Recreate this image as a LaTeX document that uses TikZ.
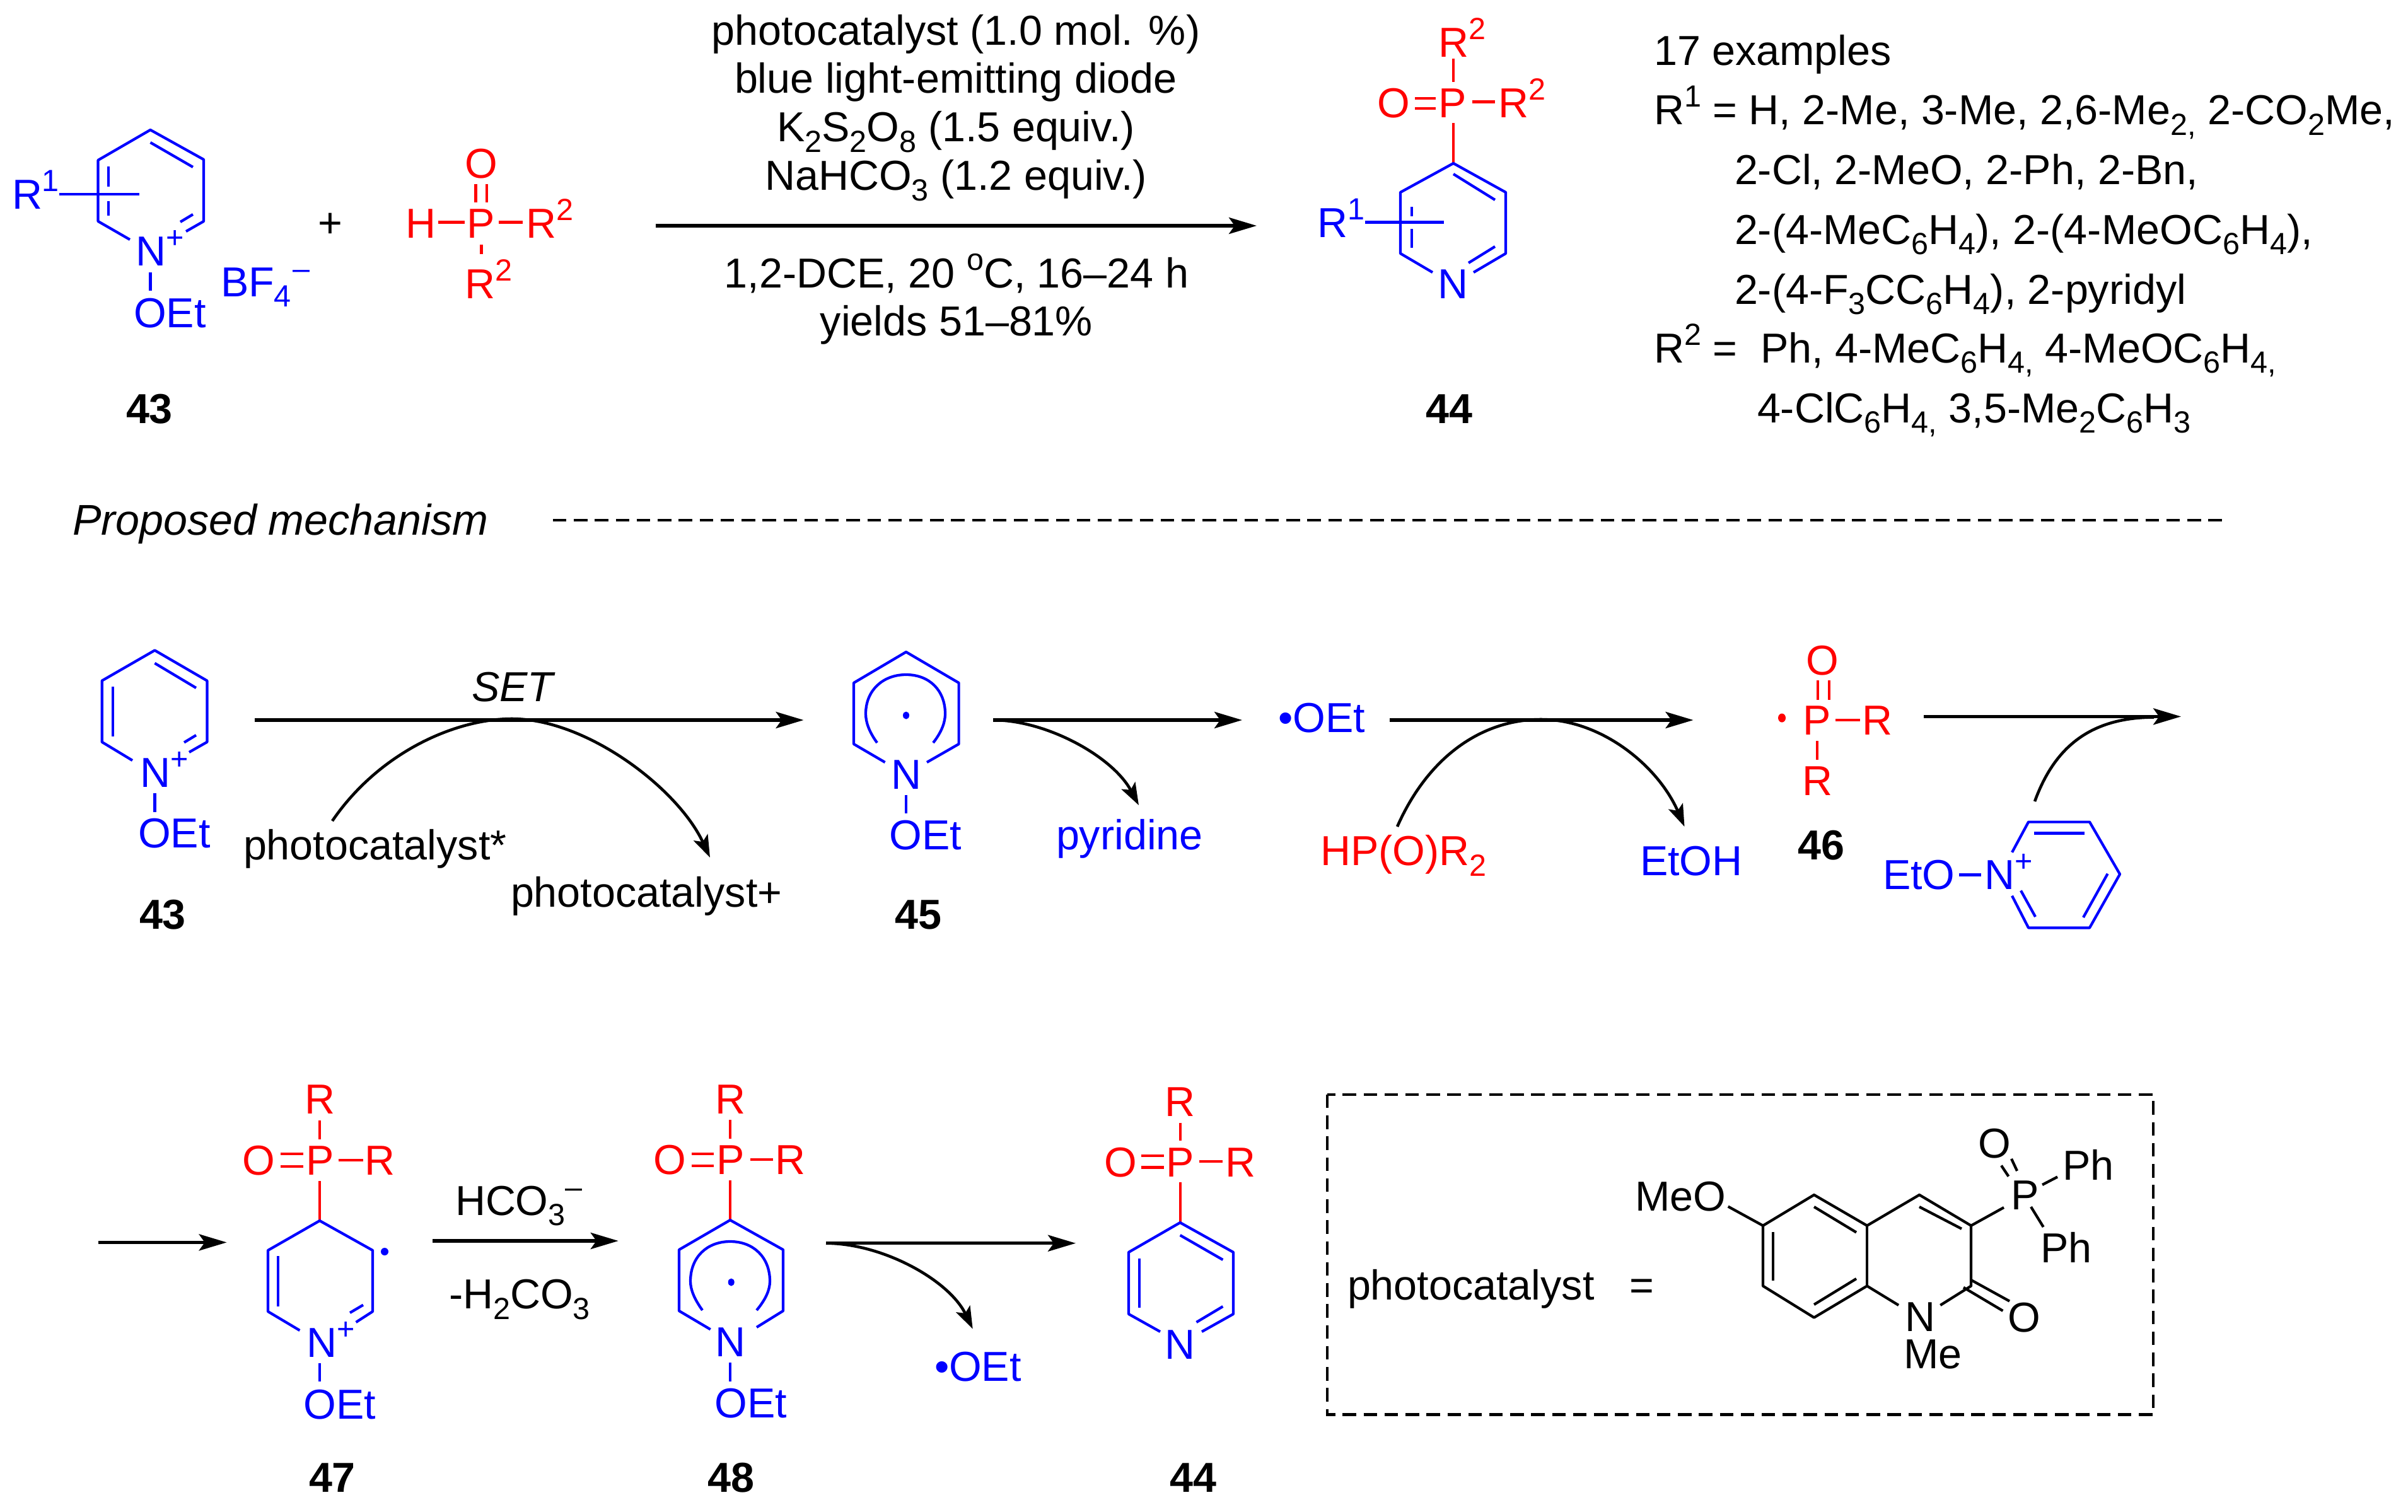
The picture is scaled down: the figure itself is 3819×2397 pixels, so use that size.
\documentclass[tikz,border=0pt]{standalone}
\usepackage{fontspec}
\setmainfont{Liberation Sans}
\usetikzlibrary{arrows.meta}
\newcommand\chemf{\fontsize{18.9pt}{22pt}\selectfont}
\newcommand\subs[1]{\raisebox{-0.25em}{\fontsize{13.8pt}{13.8pt}\selectfont #1}}
\newcommand\sups[1]{\raisebox{0.42em}{\fontsize{13.8pt}{13.8pt}\selectfont #1}}
\tikzset{
  lab/.style={anchor=base,inner sep=0pt,outer sep=0pt,font=\chemf},
  lw/.style={anchor=base west,inner sep=0pt,outer sep=0pt,font=\chemf},
  cmpd/.style={anchor=base,inner sep=0pt,outer sep=0pt,font=\chemf\bfseries},
  bond/.style={line width=1.2pt,line join=round},
  bigarrow/.style={line width=1.45pt,-{Stealth[length=12.5pt,width=7.4pt,inset=2.6pt]}},
  curvearrow/.style={line width=1.3pt,-{Stealth[length=10pt,width=7pt,inset=2.2pt]}},
  boxdash/.style={line width=1.35pt,dash pattern=on 6.1pt off 3.35pt},
}
\begin{document}
\begin{tikzpicture}[x=0.01cm,y=-0.01cm]
\fill[white] (0,0) rectangle (3819,2397);
\useasboundingbox (0,0) rectangle (3819,2397);

% ---------- top row: 43 ----------
\begin{scope}[blue]
\draw[bond] (206,380) -- (155.6,351) -- (155.6,254) -- (238.5,206) -- (323,253) -- (323,351) -- (295,367);
\draw[bond] (238.5,226) -- (306,265);
\draw[bond] (172,264) -- (172,296) (172,319) -- (172,342);
\draw[bond] (286,352) -- (306,340);
\draw[bond] (94,308) -- (221,308);
\draw[bond] (238.5,432) -- (238.5,461);
\node[lw] (tR1) at (19,331.5) {R\sups{1}};
\node[lw] (tN) at (215,421.5) {N\sups{+}};
\node[lw] (tOEt) at (212,519) {OEt};
\node[lw] (tBF) at (350,470) {BF\subs{4}\sups{\hspace{0.05em}--}};
\end{scope}
\node[lab] (plus) at (524,376) {+};
\node[cmpd] (c43a) at (237,671) {43};
% H-P(O)R2
\begin{scope}[red]
\draw[bond] (695,352.6) -- (737,352.6) (791,352.6) -- (829,352.6);
\draw[bond] (754.5,291.5) -- (754.5,321.4) (771.7,291.5) -- (771.7,321.4);
\draw[bond] (763.4,388) -- (763.4,402.7);
\node[lw] (hH) at (643,377.4) {H};
\node[lw] (hP) at (740,377.4) {P};
\node[lab] (hO) at (763.5,282) {O};
\node[lw] (hR) at (834,377.4) {R\sups{2}};
\node[lw] (hRb) at (737,473) {R\sups{2}};
\end{scope}
% conditions
\node[lab] (cond1) at (1516,72) {photocatalyst (1.0 mol. \%)};
\node[lab] (cond2) at (1516,148) {blue light-emitting diode};
\node[lab] (cond3) at (1516,225) {K\subs{2}S\subs{2}O\subs{8} (1.5 equiv.)};
\node[lab] (cond4) at (1516,301.6) {NaHCO\subs{3} (1.2 equiv.)};
\node[lab] (cond5) at (1517,456) {1,2-DCE, 20 \sups{o}C, 16–24 h};
\node[lab] (cond6) at (1517,532.6) {yields 51–81\%};
\coordinate (a1s) at (1040,358);
\coordinate (a1e) at (1993,358);
\draw[bigarrow] (a1s) -- (a1e);
% 44 top
\begin{scope}[red]
\draw[bond] (2305,93) -- (2305,130) (2305,195) -- (2305,259);
\draw[bond] (2244,156) -- (2277,156) (2244,172) -- (2277,172);
\draw[bond] (2335,161.6) -- (2371,161.6);
\node[lab] (pR) at (2305,90.4) {\phantom{\sups{2}}R\sups{2}};
\node[lw] (pO) at (2184,186) {O};
\node[lw] (pP) at (2281,186) {P};
\node[lw] (pR2) at (2376,186) {R\sups{2}};
\end{scope}
\begin{scope}[blue]
\draw[bond] (2272,432) -- (2221,402) -- (2221,305) -- (2305,259) -- (2388,305) -- (2388,402) -- (2337,432);
\draw[bond] (2305,276) -- (2371,317);
\draw[bond] (2329,417) -- (2371,391);
\draw[bond] (2239,328) -- (2239,343) (2239,363) -- (2239,392.5);
\draw[bond] (2165,352.6) -- (2290,352.6);
\node[lab] (pN) at (2304.5,473) {N};
\node[lw] (pR1) at (2089,376.5) {R\sups{1}};
\end{scope}
\node[cmpd] (c44a) at (2298,671) {44};
% examples text
\node[lw] (ex1) at (2623,103.3) {17 examples};
\node[lw] (ex2) at (2623,197.4) {R\sups{1} = H, 2-Me, 3-Me, 2,6-Me\subs{2,} 2-CO\subs{2}Me,};
\node[lw] (ex3) at (2751,292.5) {2-Cl, 2-MeO, 2-Ph, 2-Bn,};
\node[lw] (ex4) at (2751,387) {2-(4-MeC\subs{6}H\subs{4}), 2-(4-MeOC\subs{6}H\subs{4}),};
\node[lw] (ex5) at (2751,482) {2-(4-F\subs{3}CC\subs{6}H\subs{4}), 2-pyridyl};
\node[lw] (ex6) at (2623,575) {R\sups{2} = \ Ph, 4-MeC\subs{6}H\subs{4,} 4-MeOC\subs{6}H\subs{4,}};
\node[lw] (ex7) at (2787,670) {4-ClC\subs{6}H\subs{4,} 3,5-Me\subs{2}C\subs{6}H\subs{3}};
% proposed
\node[lw,font=\fontsize{19.4pt}{22pt}\selectfont\itshape] (prop) at (115,848) {Proposed mechanism};
\coordinate (ds) at (877,825);
\coordinate (de) at (3528,825);
\draw[boxdash] (ds) -- (de);

% ---------- row 2: 43 ----------
\begin{scope}[blue]
\draw[bond] (210,1206) -- (161.7,1176.8) -- (161.7,1079.6) -- (245.4,1031.4) -- (328.4,1079.6) -- (328.4,1176.8) -- (300,1193);
\draw[bond] (245.4,1051.8) -- (311,1091);
\draw[bond] (179,1089) -- (179,1168);
\draw[bond] (292,1177.5) -- (311,1166);
\draw[bond] (245.4,1258) -- (245.4,1287.5);
\node[lw] (bN) at (222,1248) {N\sups{+}};
\node[lw] (bO) at (219,1344.6) {OEt};
\end{scope}
\node[cmpd] (c43b) at (258,1473) {43};
\node[lw,font=\chemf\itshape] (set) at (748,1112.5) {SET};
\coordinate (a2s) at (404,1142);
\coordinate (a2e) at (1274.5,1142);
\draw[bigarrow] (a2s) -- (a2e);
\coordinate (c2s) at (527,1302);
\coordinate (c2e) at (1126,1360);
\draw[curvearrow] (c2s) .. controls (600,1195) and (720,1140) .. (812,1140) .. controls (930,1140) and (1075,1250) .. (c2e);
\node[lw] (pc1) at (386,1363.6) {photocatalyst*};
\node[lw] (pc2) at (810,1438.6) {photocatalyst+};
% 45
\begin{scope}[blue]
\draw[bond] (1403.6,1209) -- (1354,1180) -- (1354,1083) -- (1437,1034) -- (1520.6,1083) -- (1520.6,1180) -- (1470,1209);
\draw[bond] (1391,1178) .. controls (1378,1160) and (1373,1145) .. (1373,1132) .. controls (1373,1095) and (1400,1070) .. (1437,1070) .. controls (1474,1070) and (1499,1095) .. (1499,1132) .. controls (1499,1145) and (1494,1160) .. (1480,1178);
\fill (1437,1134.6) ellipse (5 and 6);
\draw[bond] (1437,1260.7) -- (1437,1290);
\node[lab] (mN) at (1437,1251) {N};
\node[lw] (mO) at (1410.6,1347.5) {OEt};
\node[lw] (pyr) at (1675,1347.5) {pyridine};
\node[lw] (oet1) at (2027,1161) {•OEt};
\node[lw] (etoh) at (2601,1388.6) {EtOH};
\end{scope}
\node[cmpd] (c45) at (1456,1473) {45};
\coordinate (a3s) at (1575,1142);
\coordinate (a3e) at (1970,1142);
\coordinate (c3e) at (1806,1277);
\draw[bigarrow] (a3s) -- (a3e);
\draw[curvearrow] (a3s) .. controls (1660,1142) and (1765,1200) .. (c3e);
\coordinate (a4s) at (2204,1142);
\coordinate (a4e) at (2685.5,1142);
\draw[bigarrow] (a4s) -- (a4e);
\coordinate (c4s) at (2216,1311);
\coordinate (c4e) at (2671.5,1311);
\draw[curvearrow] (c4s) .. controls (2265,1200) and (2350,1141) .. (2444,1141) .. controls (2540,1141) and (2630,1215) .. (c4e);
\node[lw,red] (hpo) at (2094,1372.5) {HP(O)R\subs{2}};
% 46
\begin{scope}[red]
\draw[bond] (2883,1079) -- (2883,1110) (2901,1079) -- (2901,1110);
\draw[bond] (2911,1142) -- (2950,1142);
\draw[bond] (2882,1175) -- (2882,1205);
\fill (2826,1138.6) ellipse (6 and 7);
\node[lab] (rO) at (2890,1070) {O};
\node[lw] (rP) at (2859,1165.4) {P};
\node[lw] (rR) at (2953,1165.4) {R};
\node[lw] (rRb) at (2858,1261.4) {R};
\end{scope}
\node[cmpd] (c46) at (2888,1363.6) {46};
\coordinate (a5s) at (3051,1136.4);
\coordinate (a5e) at (3459,1136.4);
\coordinate (c5s) at (3227,1271);
\coordinate (c5e) at (3416,1137.5);
\draw[bigarrow] (a5s) -- (a5e);
\draw[curvearrow,-] (c5s) .. controls (3260,1180) and (3320,1138) .. (c5e);
\begin{scope}[blue]
\draw[bond] (3107,1387.5) -- (3142,1387.5);
\draw[bond] (3191,1351.8) -- (3217,1303.6) -- (3314,1303.6) -- (3362,1386.4) -- (3314,1471.4) -- (3217,1471.4) -- (3191,1420.7);
\draw[bond] (3226,1321.4) -- (3306,1321.4);
\draw[bond] (3342.6,1385.7) -- (3304,1455);
\draw[bond] (3205,1412.5) -- (3228,1454);
\node[lw] (eO) at (2986,1410.7) {EtO};
\node[lw] (eN) at (3147,1410.7) {N\sups{+}};
\end{scope}

% ---------- row 3 ----------
\coordinate (a6s) at (156,1970.4);
\coordinate (a6e) at (359.6,1970.4);
\draw[bigarrow] (a6s) -- (a6e);
% 47
\begin{scope}[red]
\draw[bond] (507,1777.4) -- (507,1807) (507,1873) -- (507,1936);
\draw[bond] (445,1830) -- (481,1830) (445,1850) -- (481,1850);
\draw[bond] (536.5,1840) -- (576,1840);
\node[lab] (sR) at (507,1766.9) {R};
\node[lab] (sP) at (508,1863) {P};
\node[lab] (sO) at (410.5,1863) {O};
\node[lw] (sR2) at (578,1863) {R};
\end{scope}
\begin{scope}[blue]
\draw[bond] (475.4,2110) -- (425,2080) -- (425,1983) -- (507,1936) -- (591,1983) -- (591,2080) -- (564.6,2097);
\draw[bond] (441,1992) -- (441,2072);
\draw[bond] (555,2082) -- (576,2069.6);
\draw[bond] (507,2161.5) -- (507,2191);
\fill (610,1985) circle (6);
\node[lw] (sN) at (486,2152) {N\sups{+}};
\node[lw] (sOE) at (481.6,2250) {OEt};
\end{scope}
\node[cmpd] (c47) at (527,2366) {47};
\coordinate (a7s) at (686,1968);
\coordinate (a7e) at (980.7,1968);
\draw[bigarrow] (a7s) -- (a7e);
\node[lw] (hco) at (722,1927) {HCO\subs{3}\sups{--}};
\node[lw] (hhco) at (712,2075.5) {-H\subs{2}CO\subs{3}};
% 48
\begin{scope}[red]
\draw[bond] (1158,1776) -- (1158,1806) (1158,1872) -- (1158,1935);
\draw[bond] (1096.5,1830) -- (1131.6,1830) (1096.5,1849) -- (1131.6,1849);
\draw[bond] (1190,1838.7) -- (1226,1838.7);
\node[lab] (uR) at (1158,1766) {R};
\node[lab] (uP) at (1158.5,1862) {P};
\node[lab] (uO) at (1062,1862) {O};
\node[lw] (uR2) at (1229,1862) {R};
\end{scope}
\begin{scope}[blue]
\draw[bond] (1126.7,2108.4) -- (1077,2079) -- (1077,1982) -- (1158,1935) -- (1242,1982) -- (1242,2079) -- (1200,2105);
\draw[bond] (1114,2078) .. controls (1101,2060) and (1095,2045) .. (1095,2032) .. controls (1095,1994) and (1121,1969) .. (1158,1969) .. controls (1195,1969) and (1221,1994) .. (1221,2032) .. controls (1221,2045) and (1215,2060) .. (1200,2078);
\fill (1159.7,2033.5) ellipse (5 and 6);
\draw[bond] (1158,2161) -- (1158,2191);
\node[lab] (uN) at (1158.5,2151) {N};
\node[lw] (uOE) at (1133.5,2248) {OEt};
\node[lw] (oet2) at (1482,2190) {•OEt};
\end{scope}
\node[cmpd] (c48) at (1159,2366) {48};
\coordinate (a8s) at (1310,1971.7);
\coordinate (a8e) at (1706,1971.7);
\coordinate (c8e) at (1542.7,2107.5);
\draw[bigarrow] (a8s) -- (a8e);
\draw[curvearrow] (a8s) .. controls (1400,1972) and (1505,2030) .. (c8e);
% 44 bottom
\begin{scope}[red]
\draw[bond] (1871.6,1780.6) -- (1871.6,1809.4) (1871.6,1875) -- (1871.6,1939);
\draw[bond] (1809.6,1833) -- (1845.8,1833) (1809.6,1851.5) -- (1845.8,1851.5);
\draw[bond] (1901.5,1842) -- (1939,1842);
\node[lab] (vR) at (1871.6,1770) {R};
\node[lab] (vP) at (1871.6,1866.6) {P};
\node[lab] (vO) at (1777,1866.6) {O};
\node[lw] (vR2) at (1943,1866.6) {R};
\end{scope}
\begin{scope}[blue]
\draw[bond] (1840,2112) -- (1790,2084) -- (1790,1986) -- (1871.6,1939) -- (1956,1986) -- (1956,2084) -- (1906,2112);
\draw[bond] (1806.8,1995.5) -- (1806.8,2074);
\draw[bond] (1871.6,1959) -- (1939.4,1998);
\draw[bond] (1897.5,2097) -- (1939.4,2072);
\node[lab] (vN) at (1871.6,2155.5) {N};
\end{scope}
\node[cmpd] (c44b) at (1892,2366) {44};
% photocatalyst box
\coordinate (bx1) at (2105,1736);
\coordinate (bx2) at (3415,2243.4);
\draw[boxdash] (bx1) rectangle (bx2);
\node[lw] (pcat) at (2137,2061.6) {photocatalyst};
\node[lab] (eq) at (2604,2061.6) {=};
\draw[bond] (2796,1943.8) -- (2877,1895) -- (2961,1943.8) -- (3044,1895) -- (3126,1943.8) -- (3126,2039.5) -- (3077.3,2070);
\draw[bond] (2961,1943.8) -- (2961,2039.5);
\draw[bond] (2796,1943.8) -- (2796,2039.5) -- (2877,2089.6) -- (2961,2039.5) -- (3011,2070);
\draw[bond] (2877,1914) -- (2944,1954.5);
\draw[bond] (2812,1953.7) -- (2812,2031);
\draw[bond] (2944,2028) -- (2877,2069);
\draw[bond] (3044,1914) -- (3111,1948.8);
\draw[bond] (2740.7,1913.5) -- (2796,1943.8);
\draw[bond] (3126,2030) -- (3187,2063.6) (3114,2041.8) -- (3176.4,2078.9);
\draw[bond] (3126,1943.8) -- (3178,1915);
\draw[bond] (3190,1837.8) -- (3199,1857) (3174,1848.5) -- (3185.4,1865.7);
\draw[bond] (3239,1879) -- (3263,1866.5);
\draw[bond] (3221,1914) -- (3240.7,1946);
\node[lw] (qMeO) at (2593,1920) {MeO};
\node[lab] (qN) at (3045,2111.4) {N};
\node[lw] (qMe) at (3019,2170) {Me};
\node[lab] (qO2) at (3210.5,2112) {O};
\node[lab] (qP) at (3212,1918) {P};
\node[lab] (qO1) at (3163,1836.6) {O};
\node[lw] (qPh1) at (3271,1871) {Ph};
\node[lw] (qPh2) at (3236,2002) {Ph};
\end{tikzpicture}
\end{document}
